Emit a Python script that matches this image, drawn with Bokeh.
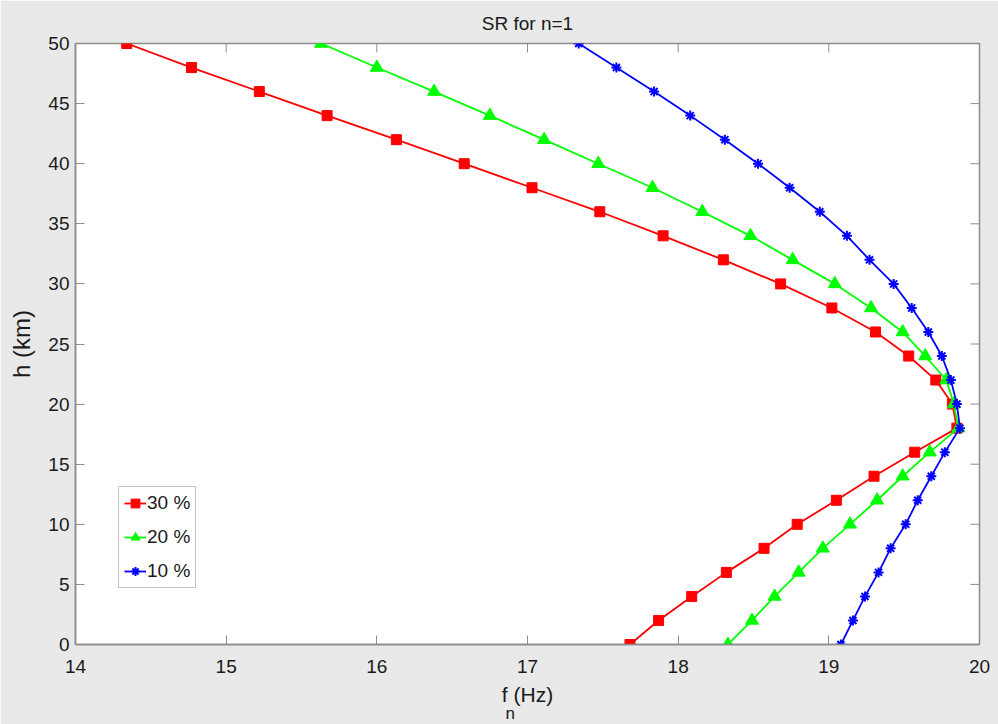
from bokeh.plotting import figure
from bokeh.models import Legend, LegendItem, FixedTicker, Title
from bokeh.embed import file_html
from bokeh.resources import INLINE

h_km = list(range(0, 52, 2))
f_30 = [17.68, 17.87, 18.09, 18.32, 18.57, 18.79, 19.05, 19.30, 19.57, 19.85,
        19.82, 19.71, 19.53, 19.31, 19.02, 18.68, 18.30, 17.90, 17.48, 17.03,
        16.58, 16.13, 15.67, 15.22, 14.77, 14.34]
f_20 = [18.33, 18.49, 18.64, 18.80, 18.96, 19.14, 19.32, 19.49, 19.67, 19.86,
        19.83, 19.78, 19.64, 19.49, 19.28, 19.04, 18.76, 18.48, 18.16, 17.83,
        17.47, 17.11, 16.75, 16.38, 16.00, 15.63]
f_10 = [19.08, 19.16, 19.24, 19.33, 19.41, 19.51, 19.59, 19.68, 19.77, 19.87,
        19.85, 19.81, 19.75, 19.66, 19.55, 19.43, 19.27, 19.12, 18.94, 18.74,
        18.53, 18.31, 18.08, 17.84, 17.59, 17.34]
series_labels = ["30 %", "20 %", "10 %"]
x_ticks = [14, 15, 16, 17, 18, 19, 20]
y_ticks = [0, 5, 10, 15, 20, 25, 30, 35, 40, 45, 50]
X0, X1, Y0, Y1 = 14, 20, 0, 50

FONT = "'Liberation Sans', Arial, sans-serif"
BG = "#e9e9e9"
AX = "#8c8c8c"
TXT = "#1a1a1a"

W, H = 998, 724
BL, BR, BT, BB = 75, 19, 43, 80
FW, FH = W - BL - BR, H - BT - BB

p = figure(width=W, height=H, x_range=(X0, X1), y_range=(Y0, Y1),
           output_backend="svg", toolbar_location=None,
           min_border_left=BL, min_border_top=BT, min_border_right=BR, min_border_bottom=BB,
           border_fill_color=BG, background_fill_color="white",
           outline_line_color=AX, outline_line_width=1.5)
p.title.text = "SR for n=1"
p.title.align = "center"
p.title.text_font = FONT
p.title.text_font_size = "19px"
p.title.text_font_style = "normal"
p.title.text_color = TXT
p.title.standoff = 20
p.xgrid.visible = False
p.ygrid.visible = False

for ax, ticks in ((p.xaxis[0], x_ticks), (p.yaxis[0], y_ticks)):
    ax.ticker = FixedTicker(ticks=ticks)
    ax.major_tick_in = 9
    ax.major_tick_out = 0
    ax.minor_tick_line_color = None
    ax.axis_line_color = AX
    ax.axis_line_width = 1.5
    ax.major_tick_line_color = AX
    ax.major_label_text_font = FONT
    ax.major_label_text_font_size = "19px"
    ax.major_label_text_color = TXT
    ax.axis_label_text_font = FONT
    ax.axis_label_text_font_size = "24px"
    ax.axis_label_text_font_style = "normal"
    ax.axis_label_text_color = TXT

p.yaxis[0].axis_label = "h (km)"
p.yaxis[0].major_label_standoff = 6
p.yaxis[0].axis_label_standoff = 10
p.xaxis[0].major_label_standoff = 15

# x-axis label "f_n (Hz)": main text and subscript as titles below the axis
xlab = Title(text="f (Hz)", align="center", vertical_align="top", standoff=14, text_font=FONT,
             text_font_size="21px", text_font_style="normal", text_color=TXT)
p.add_layout(xlab, "below")
sub = Title(text="n", align="left", offset=430, vertical_align="top", standoff=-21, text_font=FONT,
            text_font_size="17px", text_font_style="normal", text_color=TXT)
p.add_layout(sub, "below")

# mirrored ticks on top and right edges (MATLAB box style)
tick_dy = 9 * (Y1 - Y0) / FH
tick_dx = 9 * (X1 - X0) / FW
p.segment(x0=x_ticks, y0=[Y1] * len(x_ticks), x1=x_ticks, y1=[Y1 - tick_dy] * len(x_ticks),
          line_color=AX, line_width=1)
p.segment(x0=[X1] * len(y_ticks), y0=y_ticks, x1=[X1 - tick_dx] * len(y_ticks), y1=y_ticks,
          line_color=AX, line_width=1)

items = []
specs = [(f_30, "#ff0000", "square", 10), (f_20, "#00ff00", "triangle", 13), (f_10, "#0000ff", "asterisk", 10)]
for (fx, col, mk, sz), lab in zip(specs, series_labels):
    r1 = p.line(fx, h_km, line_color=col, line_width=1.8)
    if mk == "asterisk":
        r2 = p.scatter(fx, h_km, marker=mk, size=sz, line_color=col, line_width=2)
    else:
        r2 = p.scatter(fx, h_km, marker=mk, size=sz, fill_color=col, line_color=col)
    items.append(LegendItem(label=lab, renderers=[r1, r2]))

legend = Legend(items=items, location=(43, 56), label_text_font=FONT, label_text_font_size="19px",
                label_text_color=TXT, glyph_width=22, glyph_height=22, label_height=22,
                spacing=12, padding=5, margin=0, label_standoff=1,
                border_line_color=AX, background_fill_color="white", background_fill_alpha=1)
p.add_layout(legend, "center")

open("out.html", "w").write(file_html(p, INLINE))
